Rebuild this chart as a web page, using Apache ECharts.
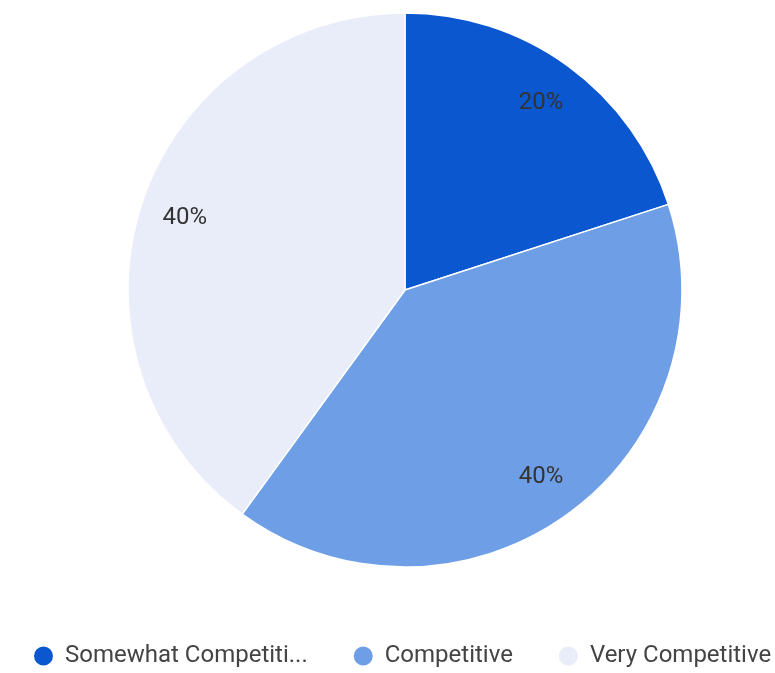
<!DOCTYPE html>
<html>
<head>
<meta charset="utf-8">
<script src="https://cdn.jsdelivr.net/npm/echarts@6/dist/echarts.min.js"></script>
<style>
  html, body { margin: 0; padding: 0; background: #ffffff; }
  #chart { width: 775px; height: 673px; }
</style>
</head>
<body>
<div id="chart"></div>
<script>
// Share of respondents by perceived competitiveness
const categories = ['Somewhat Competitive', 'Competitive', 'Very Competitive'];
const shares = [20, 40, 40];
const sliceColors = ['#0b57d0', '#6d9ee6', '#e8edf9'];

const pieData = categories.map((name, i) => ({
  name: name,
  value: shares[i],
  itemStyle: { color: sliceColors[i] }
}));

const center = [405, 290];
const outerR = 277;

const chart = echarts.init(document.getElementById('chart'), null, { renderer: 'canvas' });
chart.setOption({
  animation: false,
  backgroundColor: '#ffffff',
  color: sliceColors,
  legend: {
    top: 644,
    left: 32,
    width: 760,
    padding: 0,
    icon: 'circle',
    itemWidth: 21,
    itemHeight: 21,
    itemGap: 44,
    data: categories,
    formatter: name => name.length > 18 ? name.slice(0, 18) + '...' : name,
    textStyle: {
      fontFamily: 'Roboto',
      fontSize: 24,
      color: '#444444',
      padding: [0, 0, 0, 6]
    }
  },
  series: [
    {
      // filled slices
      type: 'pie',
      center: center,
      radius: [0, outerR],
      startAngle: 90,
      clockwise: true,
      label: { show: false },
      labelLine: { show: false },
      emphasis: { disabled: true },
      itemStyle: { borderColor: '#ffffff', borderWidth: 1.5 },
      data: pieData
    },
    {
      // percentage labels placed toward the rim
      type: 'pie',
      center: center,
      radius: [180, outerR],
      startAngle: 90,
      clockwise: true,
      silent: true,
      legendHoverLink: false,
      itemStyle: { color: 'rgba(0,0,0,0)' },
      emphasis: { disabled: true },
      labelLine: { show: false },
      label: {
        show: true,
        position: 'inside',
        formatter: p => p.value + '%',
        fontFamily: 'Roboto',
        fontSize: 24,
        color: '#333333',
        padding: [6, 0, 0, 0]
      },
      data: categories.map((name, i) => ({ name: name, value: shares[i] }))
    }
  ]
});
</script>
</body>
</html>
